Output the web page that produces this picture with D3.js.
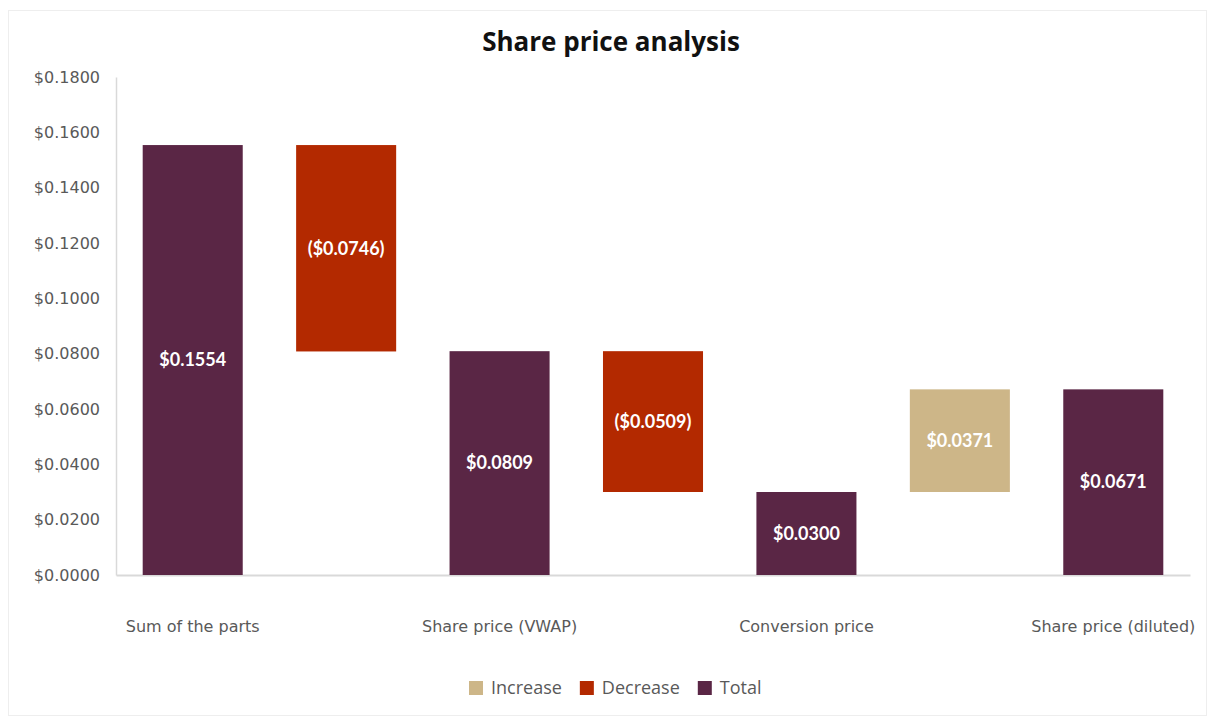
<!DOCTYPE html>
<html>
<head>
<meta charset="utf-8">
<script src="https://cdn.jsdelivr.net/npm/d3@7"></script>
<style>
  body { margin: 0; background: #fff; }
  svg { display: block; }
</style>
</head>
<body>
<svg id="chart" width="1215" height="724"></svg>
<script>
// chart data
const categories = ['Sum of the parts', 'step1', 'Share price (VWAP)', 'step2', 'Conversion price', 'step3', 'Share price (diluted)']
const catLabels  = ['Sum of the parts', '', 'Share price (VWAP)', '', 'Conversion price', '', 'Share price (diluted)']
const kinds      = ['Total', 'Decrease', 'Total', 'Decrease', 'Total', 'Increase', 'Total']
const values     = [0.1554, -0.0746, 0.0809, -0.0509, 0.0300, 0.0371, 0.0671]
const yTicks     = [0, 0.02, 0.04, 0.06, 0.08, 0.10, 0.12, 0.14, 0.16, 0.18]
const legendKeys = ['Increase', 'Decrease', 'Total']

const colors = {Increase: '#cdb688', Decrease: '#b32900', Total: '#5a2645'}

// work out floating bar extents
let running = 0
const bars = categories.map((c, i) => {
    let lo, hi
    if (kinds[i] === 'Total') { lo = 0; hi = values[i]; running = values[i] }
    else { const next = running + values[i]; lo = Math.min(running, next); hi = Math.max(running, next); running = next }
    return {cat: c, kind: kinds[i], value: values[i], lo, hi}
})

const svg = d3.select('#chart')
const plotLeft = 116, plotRight = 1190, plotTop = 77, plotBottom = 575

// faint frame round the chart area
svg.append('rect').attr('x', 8.5).attr('y', 10.5).attr('width', 1198).attr('height', 705)
    .attr('fill', 'none').attr('stroke', '#eeeeee')

const x = d3.scaleBand().domain(categories).range([plotLeft, plotRight]).paddingInner(0.348).paddingOuter(0.174)
const y = d3.scaleLinear().domain([0, 0.18]).range([plotBottom, plotTop])

svg.append('text')
    .attr('x', 611).attr('y', 51)
    .attr('text-anchor', 'middle')
    .style('font', 'bold 26px "Open Sans", sans-serif')
    .attr('fill', '#111')
    .text('Share price analysis')

// y axis
const yAxis = d3.axisLeft(y).tickValues(yTicks).tickSize(0).tickPadding(16)
    .tickFormat(d => '$' + d.toFixed(4))
const gy = svg.append('g').attr('transform', `translate(${plotLeft},0)`).call(yAxis)
gy.select('.domain').attr('stroke', '#d9d9d9').attr('stroke-width', 1.5)
gy.selectAll('text').style('font', '16px "DejaVu Sans", sans-serif').attr('fill', '#595959')

// x axis
const xAxis = d3.axisBottom(x).tickSize(0).tickPadding(46).tickFormat((d, i) => catLabels[i])
const gx = svg.append('g').attr('transform', `translate(0,${plotBottom})`).call(xAxis)
gx.select('.domain').attr('stroke', '#d9d9d9').attr('stroke-width', 2)
gx.selectAll('text').style('font', '16px "DejaVu Sans", sans-serif').attr('fill', '#595959')

// bars
svg.append('g').selectAll('rect')
    .data(bars).enter().append('rect')
    .attr('x', d => x(d.cat))
    .attr('width', x.bandwidth())
    .attr('y', d => y(d.hi))
    .attr('height', d => y(d.lo) - y(d.hi))
    .attr('fill', d => colors[d.kind])

// data labels
const fmt = v => v < 0 ? '($' + Math.abs(v).toFixed(4) + ')' : '$' + v.toFixed(4)
svg.append('g').selectAll('text')
    .data(bars).enter().append('text')
    .attr('x', d => x(d.cat) + x.bandwidth() / 2)
    .attr('y', d => (y(d.lo) + y(d.hi)) / 2)
    .attr('dy', '0.35em')
    .attr('text-anchor', 'middle')
    .style('font', 'bold 18px Lato, sans-serif')
    .attr('fill', '#fff')
    .text(d => fmt(d.value))

// legend
const legend = svg.append('g').attr('transform', 'translate(469,688)')
let lx = 0
legendKeys.forEach(k => {
    const g = legend.append('g').attr('transform', `translate(${lx},0)`)
    g.append('rect').attr('x', 0).attr('y', -7).attr('width', 14).attr('height', 14).attr('fill', colors[k])
    const t = g.append('text').attr('x', 22).attr('y', 0).attr('dy', '0.35em')
        .style('font', '18px "Open Sans", sans-serif').attr('fill', '#595959').text(k)
    lx += 22 + t.node().getComputedTextLength() + 18
})
</script>
</body>
</html>
